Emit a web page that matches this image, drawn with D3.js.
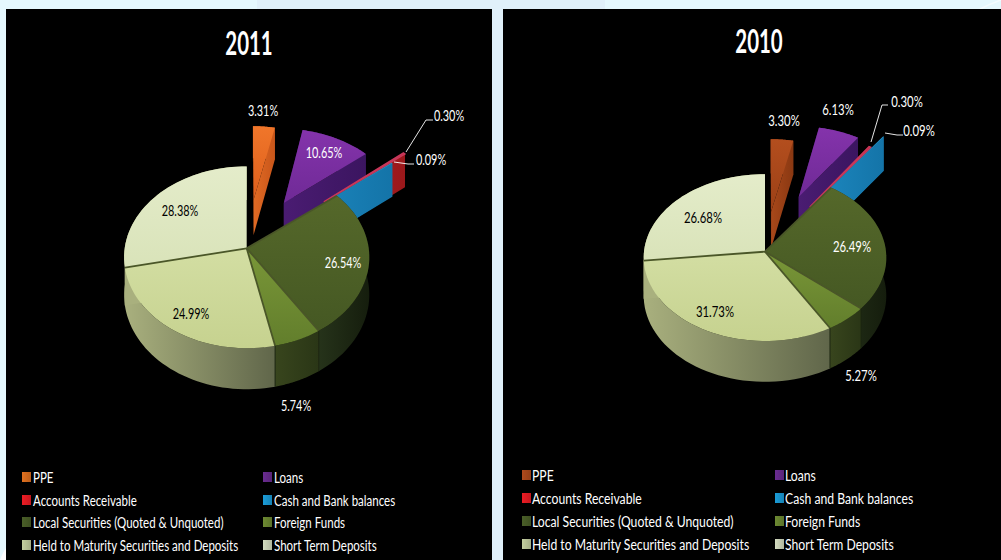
<!DOCTYPE html>
<html>
<head>
<meta charset="utf-8">
<script src="https://cdn.jsdelivr.net/npm/d3@7/dist/d3.min.js"></script>
<style>
  html, body { margin: 0; padding: 0; background: #e2f3fb; }
  svg { display: block; }
  text { font-family: Lato, "Liberation Sans", sans-serif; }
</style>
</head>
<body>
<svg id="chart" width="1001" height="560"></svg>
<script>
// Asset mix for the two years, in percent of the total.
const categories = ["PPE", "Loans", "Accounts Receivable", "Cash and Bank balances",
  "Local Securities (Quoted & Unquoted)", "Foreign Funds",
  "Held to Maturity Securities and Deposits", "Short Term Deposits"];
const values2011 = [3.31, 10.65, 0.30, 0.09, 26.54, 5.74, 24.99, 28.38];
const values2010 = [3.30, 6.13, 0.30, 0.09, 26.49, 5.27, 31.73, 26.68];

// How far each slice is pulled out, as a share of the radius.
const explode2011 = [0.57, 0.62, 0.86, 0.68, 0, 0, 0, 0];
const explode2010 = [0.50, 0.75, 0.68, 0.88, 0, 0, 0, 0];

// Slice colours: top face light/dark, side wall left/right.
const topLight = ["#f0762a", "#8433ab", "#c9252a", "#2b96c8", "#55682a", "#7a9738", "#d3dea3", "#e4ecca"];
const topDark = ["#dd5e1c", "#6f2a96", "#b01c20", "#1a7fb5", "#455823", "#627e2c", "#c6d28f", "#d9e3b9"];
const wallLeft = ["#e06a24", "#4a1c72", "#b81f22", "#1c86bd", "#26331a", "#38451d", "#a9b07e", "#a9b07e"];
const wallRight = ["#c9561a", "#3b1560", "#9a181b", "#1474a8", "#151d0d", "#2a3616", "#60664a", "#a9b07e"];
const topLight2010 = ["#b34e1e", ...topLight.slice(1)];
const topDark2010 = ["#9c4016", ...topDark.slice(1)];
const wallLeft2010 = ["#a8481a", ...wallLeft.slice(1)];
const wallRight2010 = ["#8a3812", ...wallRight.slice(1)];
const keyColours = ["#e0701f", "#6a2c91", "#ed1c24", "#1a9cd8", "#4a5f28", "#6d8a32", "#c4cfa0", "#d4dcc0"];
const keyColours2010 = ["#b04a1c", ...keyColours.slice(1)];

// Back-to-front drawing order of the slices.
const paintOrder = [0, 1, 2, 3, 7, 4, 5, 6];

const panels = [
  { id: "y2011", title: "2011", values: values2011, explode: explode2011,
    x: 6, y: 9, w: 486, h: 551, cx: 246.7, cy: 248.3, rx: 122, ry: 90, k: 0.099, depth: 37,
    top: [topLight, topDark], wall: [wallLeft, wallRight], keys: keyColours,
    titleX: 249, titleY: 55, labelSqueeze: 0.68, legendSqueeze: 0.72, legendGap: 11,
    labelXY: [[263,110],[324,152],[449,115],[431,159],[343,262],[296,405],[191,313],[180,210]],
    labelFill: ["#fff","#fff","#fff","#fff","#fff","#fff","#000","#000"],
    leaders: { 2: [[406,152],[426,120],[433,120]], 3: [[394,162],[408,164],[414,164]] },
    legendX: [22, 263], legendY: [477, 500, 522, 545] },
  { id: "y2010", title: "2010", values: values2010, explode: explode2010,
    x: 503, y: 9, w: 498, h: 551, cx: 765, cy: 251.7, rx: 121, ry: 83, k: 0.07, depth: 38,
    top: [topLight2010, topDark2010], wall: [wallLeft2010, wallRight2010], keys: keyColours2010,
    titleX: 759, titleY: 53, labelSqueeze: 0.71, legendSqueeze: 0.762, legendGap: 10,
    labelXY: [[784,120],[838,109],[907,101],[919,130],[852,246],[861,375],[715,311],[703,217]],
    labelFill: ["#fff","#fff","#fff","#fff","#fff","#fff","#000","#000"],
    leaders: { 2: [[871,142],[882,105],[888,105]], 3: [[885,133],[897,135],[903,135]] },
    legendX: [522, 775], legendY: [475, 498, 521, 544] }
];

const svg = d3.select("#chart");
const defs = svg.append("defs");

// Page background with its pale tints.
svg.append("rect").attr("width", 1001).attr("height", 560).attr("fill", "#e5f8fe");
svg.append("rect").attr("x", 257).attr("width", 348).attr("height", 560).attr("fill", "#e0f0fa");
svg.append("path").attr("d", "M0,560 Q3,552 6,548 L6,560 Z").attr("fill", "#fff");
svg.append("path").attr("d", "M980,9 Q990,4 1001,0").attr("fill", "none").attr("stroke", "#f4fcff").attr("stroke-width", 1.5);

const pieLayout = d3.pie().sort(null).value(d => d);
const pathLine = d3.line();
const closed = pts => pathLine(pts) + "Z";

function gradient(id, a, b, vertical) {
  const g = defs.append("linearGradient").attr("id", id)
    .attr("x1", 0).attr("y1", 0).attr("x2", vertical ? 0 : 1).attr("y2", vertical ? 1 : 0);
  g.append("stop").attr("offset", "0%").attr("stop-color", a);
  g.append("stop").attr("offset", "100%").attr("stop-color", b);
  return `url(#${id})`;
}

// Places a condensed label: the face is squeezed horizontally around its anchor.
function squeezed(sel, x, y, str, size, squeeze, fill, anchor, weight) {
  return sel.append("text")
    .attr("transform", `translate(${x},${y}) scale(${squeeze},1)`)
    .attr("font-size", size).attr("fill", fill)
    .attr("text-anchor", anchor).attr("font-weight", weight || "normal")
    .text(str);
}

panels.forEach(p => {
  const g = svg.append("g").attr("id", p.id);
  g.append("rect").attr("x", p.x).attr("y", p.y).attr("width", p.w).attr("height", p.h).attr("fill", "#000");
  squeezed(g, p.titleX, p.titleY, p.title, 33, 0.62, "#fff", "middle", "bold");

  // Perspective projection of a point on the disc: v runs away from the viewer.
  const project = (u, v, z) => {
    const s = 1 / (1 + p.k * v);
    return [p.cx + p.rx * u * s, p.cy - p.ry * v * s + z * s];
  };

  const arcs = pieLayout(p.values);
  const radialEdges = [];

  paintOrder.forEach(i => {
    const a = arcs[i];
    const mid = (a.startAngle + a.endAngle) / 2;
    const du = p.explode[i] * Math.sin(mid);
    const dv = p.explode[i] * Math.cos(mid);
    const steps = d3.range(0, 41).map(t => a.startAngle + (a.endAngle - a.startAngle) * t / 40);
    const rim = z => steps.map(t => project(du + Math.sin(t), dv + Math.cos(t), z));
    const apex = z => project(du, dv, z);
    const topRim = rim(0), lowRim = rim(p.depth);

    const topFill = gradient(`${p.id}-top-${i}`, p.top[0][i], p.top[1][i], true);
    const wallFill = gradient(`${p.id}-wall-${i}`, p.wall[0][i], p.wall[1][i], false);
    const startFace = [apex(0), topRim[0], lowRim[0], apex(p.depth)];
    const endFace = [apex(0), topRim[40], lowRim[40], apex(p.depth)];
    const isExploded = p.explode[i] > 0;

    g.append("path").attr("d", closed(startFace)).attr("fill", p.wall[1][i]);
    g.append("path").attr("d", closed(topRim.concat(lowRim.slice().reverse()))).attr("fill", wallFill);
    g.append("path").attr("d", closed(endFace)).attr("fill", isExploded ? wallFill : p.wall[0][i]);
    const topFace = g.append("path").attr("d", closed([apex(0)].concat(topRim))).attr("fill", topFill);

    // The receivables sliver is thinner than a pixel at this scale, so it gets an outline.
    if (i === 2) topFace.attr("stroke", "#c8375a").attr("stroke-width", 1.5);

    if (!isExploded) radialEdges.push([apex(0), topRim[0]]);
  });

  // Seams between the slices that stay in the disc.
  g.append("g").selectAll("path").data(radialEdges).join("path")
    .attr("d", d => pathLine(d))
    .attr("fill", "none").attr("stroke", "#4a5628").attr("stroke-width", 1.8);

  // Wall seams under the front slices.
  [4, 5].forEach(i => {
    const t = arcs[i].endAngle;
    g.append("path")
      .attr("d", pathLine([project(Math.sin(t), Math.cos(t), 0), project(Math.sin(t), Math.cos(t), p.depth)]))
      .attr("stroke", "#1d2612").attr("stroke-width", 1).attr("fill", "none");
  });

  // Leader lines for the two smallest slices.
  Object.values(p.leaders).forEach(pts => {
    g.append("path").attr("d", pathLine(pts)).attr("fill", "none").attr("stroke", "#fff").attr("stroke-width", 0.9);
  });

  // Value labels.
  p.values.forEach((v, i) => {
    const [lx, ly] = p.labelXY[i];
    squeezed(g, lx, ly + 5.5, v.toFixed(2) + "%", 16, p.labelSqueeze, p.labelFill[i], "middle");
  });

  // Legend in two columns.
  categories.forEach((c, i) => {
    const lx = p.legendX[i % 2], ly = p.legendY[Math.floor(i / 2)];
    const key = p.keys[i];
    g.append("rect").attr("x", lx).attr("y", ly - 5).attr("width", 9).attr("height", 10)
      .attr("fill", gradient(`${p.id}-key-${i}`, key, d3.color(key).darker(0.5).formatHex(), false));
    squeezed(g, lx + p.legendGap, ly + 5.5, c, 16, p.legendSqueeze, "#fff", "start");
  });
});
</script>
</body>
</html>
